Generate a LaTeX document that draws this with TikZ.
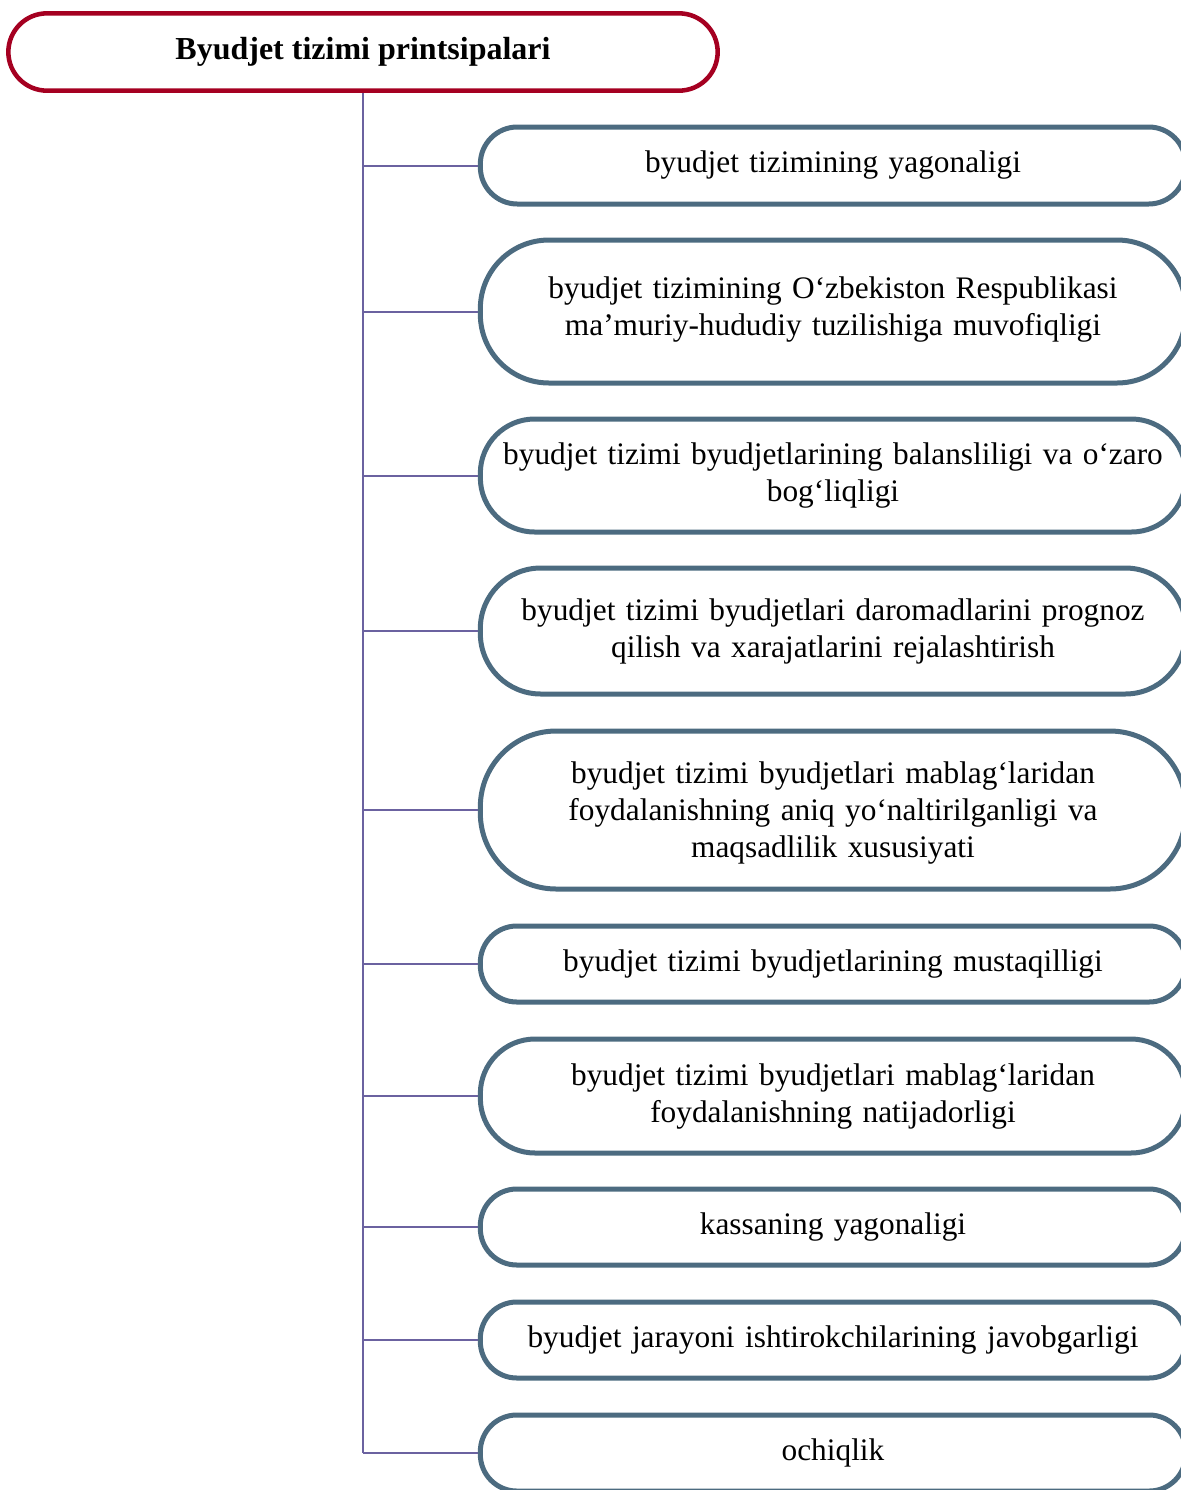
\documentclass[tikz,border=0pt]{standalone}
\usepackage{fontspec}
\setmainfont{Liberation Serif}
\definecolor{rootred}{RGB}{165,0,33}
\definecolor{boxslate}{RGB}{76,107,128}
\definecolor{linkviolet}{RGB}{107,98,160}
\tikzset{every picture/.style={line width=0.75pt}}
\tikzset{
  rootbox/.style={draw=rootred, line width=3.4pt, rounded corners=29pt,
    minimum width=532pt, minimum height=58pt, inner sep=0pt,
    font=\fontsize{24}{28}\selectfont\bfseries},
  princbox/.style={draw=boxslate, line width=3.75pt, rounded corners={#1*0.36pt},
    minimum width=529pt, minimum height={#1*0.75pt}, inner sep=0pt,
    text width=505pt, align=center, font=\fontsize{23.5}{27.75}\selectfont},
  link/.style={draw=linkviolet, line width=1.5pt}
}
\begin{document}
\begin{tikzpicture}[x=0.75pt,y=0.75pt,yscale=-1,xscale=1]
\clip (0,0) rectangle (1181,1490);

% Root
\node [rootbox] (root) at (363,52) {Byudjet tizimi printsipalari};

% Principles
\node [princbox=77] (p1) at (833,165.5) {byudjet tizimining yagonaligi};
\node [princbox=143] (p2) at (833,311.5) {byudjet tizimining O‘zbekiston Respublikasi\\ma’muriy-hududiy tuzilishiga muvofiqligi\\[-20pt]\mbox{}};
\node [princbox=113] (p3) at (833,475.5) {byudjet tizimi byudjetlarining balansliligi va o‘zaro\\bog‘liqligi};
\node [princbox=126] (p4) at (833,631) {byudjet tizimi byudjetlari daromadlarini prognoz\\qilish va xarajatlarini rejalashtirish};
\node [princbox=158] (p5) at (833,810) {\\[-7pt]byudjet tizimi byudjetlari mablag‘laridan\\foydalanishning aniq yo‘naltirilganligi va\\maqsadlilik xususiyati};
\node [princbox=76] (p6) at (833,964) {byudjet tizimi byudjetlarining mustaqilligi};
\node [princbox=114] (p7) at (833,1096) {byudjet tizimi byudjetlari mablag‘laridan\\foydalanishning natijadorligi};
\node [princbox=76] (p8) at (833,1227) {kassaning yagonaligi};
\node [princbox=76] (p9) at (833,1340) {byudjet jarayoni ishtirokchilarining javobgarligi};
\node [princbox=76] (p10) at (833,1453) {ochiqlik};

% Connectors
\draw [link] (root.south) -- (root.south |- p10.west);
\foreach \k in {1,...,10}
  \draw [link] (root.south |- p\k.west) -- (p\k.west);

\end{tikzpicture}
\end{document}
